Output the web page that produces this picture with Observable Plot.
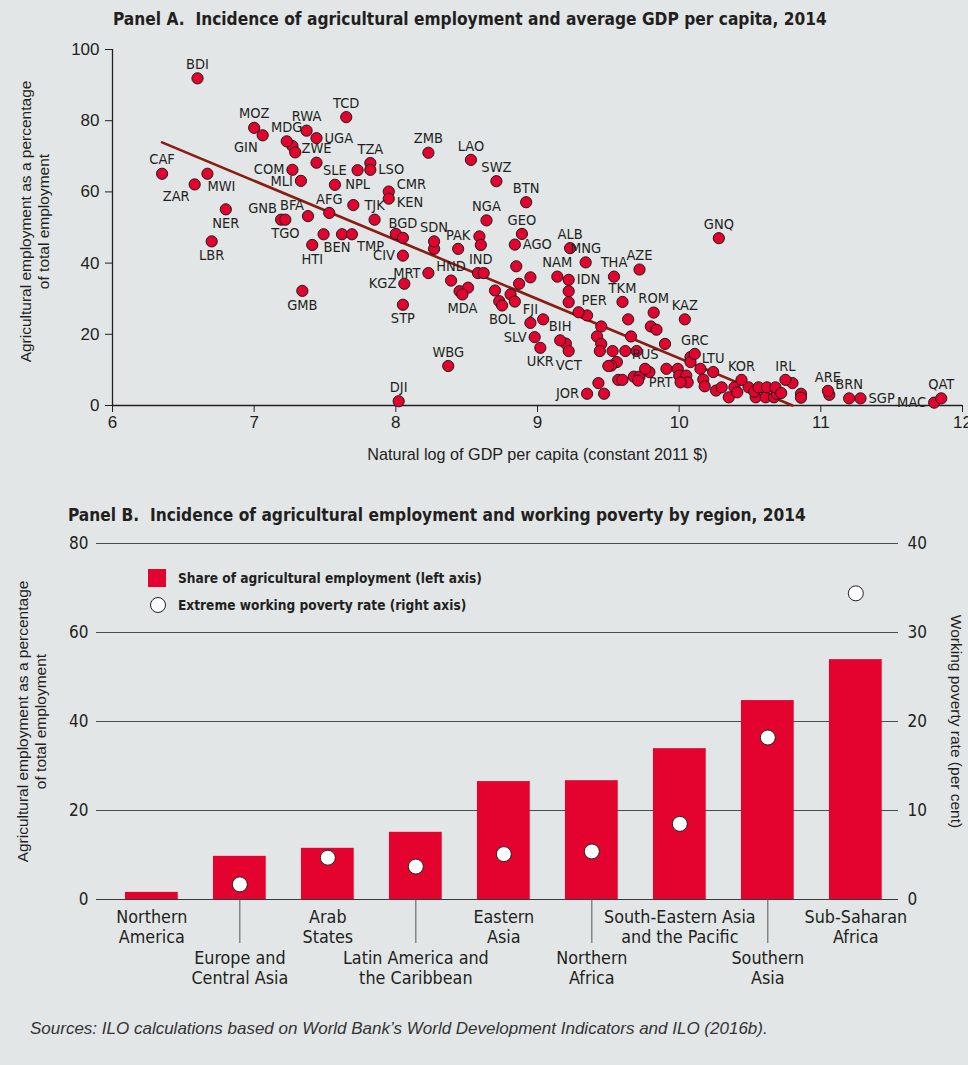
<!DOCTYPE html>
<html><head><meta charset="utf-8">
<script src="https://cdn.jsdelivr.net/npm/d3@7"></script>
<script src="https://cdn.jsdelivr.net/npm/@observablehq/plot@0.6"></script>
<style>
html,body{margin:0;padding:0;background:#e2e6e7;}
#root{position:relative;width:968px;height:1065px;background:#e2e6e7;color:#231f20;overflow:hidden;}
.narrow{font-family:'Liberation Sans Narrow','Arial Narrow','DejaVu Sans Condensed',sans-serif;}
.title{position:absolute;font-weight:bold;font-size:17.2px;line-height:1;white-space:pre;}
.abs{position:absolute;}
.leg{position:absolute;font-weight:bold;font-size:13.6px;line-height:1;white-space:pre;}
.src{position:absolute;left:30px;top:1020px;font-family:'Liberation Sans',Arial,sans-serif;font-style:italic;font-size:17px;line-height:1;color:#333;}
</style></head>
<body><div id="root">
<div class="title narrow" style="left:113px;top:11px">Panel A.  Incidence of agricultural employment and average GDP per capita, 2014</div>
<div id="chartA" class="abs" style="left:0;top:30px"></div>
<div class="title narrow" style="left:68px;top:507px">Panel B.  Incidence of agricultural employment and working poverty by region, 2014</div>
<div id="chartB" class="abs" style="left:0;top:525px"></div>
<div class="abs" style="left:148px;top:569px;width:18px;height:18px;background:#e4032e"></div>
<div class="leg narrow" style="left:178px;top:572px">Share of agricultural employment (left axis)</div>
<div class="abs" style="left:150px;top:597px;width:14px;height:14px;border:1px solid #231f20;border-radius:50%;background:#fff"></div>
<div class="leg narrow" style="left:178px;top:599px">Extreme working poverty rate (right axis)</div>
<div class="src">Sources: ILO calculations based on World Bank’s World Development Indicators and ILO (2016b).</div>
</div>
<script>
// ---------- Panel A data ----------
const xTicksA = [6, 7, 8, 9, 10, 11, 12];
const yTicksA = [0, 20, 40, 60, 80, 100];
const xLabelA = "Natural log of GDP per capita (constant 2011 $)";
const yLabelA = "Agricultural employment as a percentage\nof total employment";

// [country code, ln GDP per capita, agricultural employment %]
const labelledCountries = [
 ["BDI",6.60,91.9],["CAF",6.35,65.1],["ZAR",6.58,62.1],["MWI",6.67,65.1],["NER",6.80,55.1],["LBR",6.70,46.1],
 ["MOZ",7.00,78.0],["GIN",7.06,75.9],["MDG",7.23,74.2],["ZWE",7.44,68.2],["RWA",7.37,77.2],["UGA",7.44,75.1],
 ["TCD",7.65,81.0],["TZA",7.82,68.1],["LSO",7.82,66.2],["SLE",7.57,62.0],["NPL",7.73,66.1],["COM",7.27,66.2],
 ["MLI",7.33,63.1],["AFG",7.53,54.1],["TJK",7.85,52.2],["GNB",7.19,52.2],["BFA",7.38,53.2],["TGO",7.22,52.2],
 ["CMR",7.95,60.1],["KEN",7.95,58.1],["HTI",7.41,45.1],["BEN",7.49,48.1],["TMP",7.69,48.1],["GMB",7.34,32.2],
 ["DJI",8.02,1.2],["STP",8.05,28.3],["CIV",8.05,42.1],["KGZ",8.06,34.2],["ZMB",8.23,71.0],["LAO",8.53,69.0],
 ["SWZ",8.71,63.0],["BTN",8.92,57.1],["NGA",8.64,52.0],["GEO",8.89,48.2],["AGO",8.84,45.2],["IND",8.60,45.1],
 ["BGD",8.05,47.1],["SDN",8.27,46.1],["PAK",8.44,44.0],["MRT",8.23,37.2],["HND",8.39,35.1],["MDA",8.47,31.2],
 ["BOL",8.75,28.1],["NAM",9.14,36.2],["IDN",9.22,35.3],["ALB",9.23,44.2],["MNG",9.34,40.2],["THA",9.54,36.2],
 ["AZE",9.72,38.2],["TKM",9.60,29.1],["PER",9.29,26.2],["ROM",9.82,26.1],["WBG",8.37,11.1],["FJI",8.95,23.2],
 ["SLV",8.98,19.2],["UKR",9.02,16.2],["BIH",9.16,18.3],["VCT",9.22,15.3],["JOR",9.35,3.3],["GNQ",10.28,47.0],
 ["KAZ",10.04,24.2],["GRC",10.11,14.5],["RUS",9.76,10.3],["PRT",10.01,6.5],["LTU",10.24,9.4],["KOR",10.44,7.2],
 ["IRL",10.75,7.2],["ARE",11.05,4.1],["BRN",11.20,2.0],["SGP",11.28,2.0],["MAC",11.80,0.8],["QAT",11.85,2.0]
];
// unlabelled countries: [ln GDP per capita, agricultural employment %]
const otherCountries = [
 [7.27,72.9],[7.29,71.1],[7.70,56.3],[7.62,48.1],[8.00,48.2],[8.27,44.0],[8.59,47.5],[8.58,37.2],[8.62,37.2],
 [8.45,32.1],[8.51,33.1],[8.70,32.3],[8.73,29.3],[8.81,31.2],[8.84,29.2],[8.87,34.2],[8.85,39.1],[8.95,36.0],
 [9.22,32.1],[9.22,29.0],[9.35,25.3],[9.04,24.2],[9.20,17.4],[9.43,6.3],[9.47,3.3],[9.45,22.2],[9.42,19.4],
 [9.45,17.3],[9.44,15.3],[9.53,15.3],[9.62,15.3],[9.70,15.3],[9.56,12.2],[9.52,11.2],[9.50,11.1],[9.64,24.2],
 [9.66,19.4],[9.80,22.2],[9.84,21.3],[9.90,17.3],[9.79,9.4],[9.91,10.3],[9.57,7.2],[9.60,7.2],[9.68,8.1],
 [9.72,8.1],[9.71,7.0],[9.99,10.3],[10.00,8.4],[10.05,8.4],[10.06,6.5],[10.08,13.6],[10.08,12.2],[10.15,10.3],
 [10.17,7.3],[10.18,5.4],[10.26,4.2],[10.30,5.1],[10.35,2.3],[10.39,5.1],[10.41,3.7],[10.49,5.1],[10.54,2.3],
 [10.53,3.9],[10.56,5.1],[10.61,2.3],[10.62,5.1],[10.67,2.3],[10.69,3.3],[10.68,5.1],[10.72,3.5],[10.80,6.3],
 [10.86,3.3],[10.86,2.2],[11.06,3.0]
];
// fitted trend line end points
const trendX = [6.35, 10.80];
const trendY = [73.9, 0];

// label placement relative to its dot
const labelSide = {
 BDI:"top",CAF:"top",ZAR:"bl",MWI:"br",NER:"bottom",LBR:"bottom",MOZ:"top",GIN:"bl",MDG:"top",ZWE:"top",
 RWA:"top",UGA:"right",TCD:"top",TZA:"top",LSO:"right",SLE:"top",NPL:"bottom",COM:"left",MLI:"left",AFG:"top",
 TJK:"top",GNB:"tl",BFA:"tl",TGO:"bottom",CMR:"rt",KEN:"rb",HTI:"bottom",BEN:"br",TMP:"br2",GMB:"bottom",
 DJI:"top",STP:"bottom",CIV:"left",KGZ:"left",ZMB:"top",LAO:"top",SWZ:"top",BTN:"top",NGA:"top",GEO:"top",
 AGO:"right",IND:"bottom",BGD:"top",SDN:"top",PAK:"top",MRT:"left",HND:"top",MDA:"bottom",BOL:"bottom",NAM:"top",
 IDN:"right",ALB:"top",MNG:"top",THA:"top",AZE:"top",TKM:"top",PER:"tr",ROM:"top",WBG:"top",FJI:"top",
 SLV:"left",UKR:"bottom",BIH:"top",VCT:"bottom",JOR:"left",GNQ:"top",KAZ:"top",GRC:"top",RUS:"top",PRT:"left",
 LTU:"top",KOR:"top",IRL:"top",ARE:"top",BRN:"top",SGP:"right",MAC:"left",QAT:"top"
};

// ---------- Panel B data ----------
const regions = ["Northern America","Europe and Central Asia","Arab States","Latin America and the Caribbean",
 "Eastern Asia","Northern Africa","South-Eastern Asia and the Pacific","Southern Asia","Sub-Saharan Africa"];
const regionLabels = ["Northern\nAmerica","Europe and\nCentral Asia","Arab\nStates","Latin America and\nthe Caribbean",
 "Eastern\nAsia","Northern\nAfrica","South-Eastern Asia\nand the Pacific","Southern\nAsia","Sub-Saharan\nAfrica"];
const agriShareB = [1.6, 9.7, 11.5, 15.1, 26.5, 26.7, 33.9, 44.7, 53.9];
const povertyRate = [null, 1.7, 4.7, 3.7, 5.1, 5.4, 8.5, 18.2, 34.4];
const yTicksLeftB = [0, 20, 40, 60, 80];
const yTicksRightB = [0, 10, 20, 30, 40];
const yLabelB = "Agricultural employment as a percentage\nof total employment";
const yLabelBRight = "Working poverty rate (per cent)";

// ---------- styles ----------
const RED = "#e4032e";
const INK = "#231f20";
const REG = "'Liberation Sans', Arial, sans-serif";
const NAR = "'Liberation Sans Narrow','Arial Narrow','DejaVu Sans Condensed',sans-serif";
const sideOffsets = {
 top:{dx:0,dy:-14,textAnchor:"middle"},
 bottom:{dx:0,dy:14,textAnchor:"middle"},
 left:{dx:-8,dy:0,textAnchor:"end"},
 right:{dx:8,dy:0,textAnchor:"start"},
 rt:{dx:8,dy:-7,textAnchor:"start"},
 rb:{dx:8,dy:4,textAnchor:"start"},
 tl:{dx:-4,dy:-11,textAnchor:"end"},
 tr:{dx:3,dy:-12,textAnchor:"start"},
 bl:{dx:-5,dy:12,textAnchor:"end"},
 br:{dx:0,dy:13,textAnchor:"start"},
 br2:{dx:5,dy:12,textAnchor:"start"}
};

// ---------- Panel A ----------
const labelled = labelledCountries.map(([code, x, y]) => ({code, x, y, side: labelSide[code]}));
const others = otherCountries.map(([x, y]) => ({x, y}));
const allPts = others.concat(labelled);
const trend = trendX.map((x, i) => ({x, y: trendY[i]}));

const labelMarks = Object.entries(sideOffsets).map(([side, o]) =>
  Plot.text(labelled.filter(d => d.side === side), {
    x: "x", y: "y", text: "code", dx: o.dx, dy: o.dy, textAnchor: o.textAnchor,
    fontFamily: NAR, fontSize: 14.5, fill: INK, lineAnchor: "middle"
  }));

const chartA = Plot.plot({
  width: 968, height: 440,
  marginTop: 19, marginRight: 6, marginBottom: 65, marginLeft: 112,
  style: {background: "transparent", color: INK, fontFamily: REG, fontSize: "16px", overflow: "visible"},
  x: {domain: [6, 12]},
  y: {domain: [0, 100]},
  marks: [
    Plot.axisX({ticks: xTicksA, tickFormat: d => String(d), tickSize: 7, tickPadding: 3, label: null, fontSize: 17}),
    Plot.axisY({ticks: yTicksA, tickFormat: d => String(d), tickSize: 7, tickPadding: 6, label: null, fontSize: 17}),
    Plot.ruleX([6], {stroke: INK, strokeWidth: 1.3}),
    Plot.ruleY([0], {stroke: INK, strokeWidth: 1.3}),
    Plot.text([yLabelA], {text: d => d, frameAnchor: "left", textAnchor: "middle", dx: -78, dy: -6, rotate: -90,
      lineHeight: 1.15, fontSize: 15.5, fill: INK}),
    Plot.text([xLabelA], {text: d => d, frameAnchor: "bottom", textAnchor: "middle", dy: 54, fontSize: 16.2, fill: INK}),
    Plot.line(trend, {x: "x", y: "y", stroke: "#8a1c12", strokeWidth: 2.6}),
    Plot.dot(allPts, {x: "x", y: "y", r: 5.6, fill: RED, stroke: "#1b1b1b", strokeWidth: 1}),
    ...labelMarks
  ]
});
document.getElementById("chartA").append(chartA);

// ---------- Panel B ----------
const rowsB = regions.map((region, i) => ({region, label: regionLabels[i], agri: agriShareB[i], poverty: povertyRate[i], i}));
const upperRow = rowsB.filter(d => d.i % 2 === 0);
const lowerRow = rowsB.filter(d => d.i % 2 === 1);

const chartB = Plot.plot({
  width: 968, height: 470,
  marginTop: 18, marginRight: 70, marginBottom: 96, marginLeft: 96,
  style: {background: "transparent", color: INK, fontFamily: REG, fontSize: "16px", overflow: "visible"},
  x: {domain: regions, paddingInner: 0.4, paddingOuter: 0.257, align: 0.64, round: false},
  y: {domain: [0, 80]},
  marks: [
    Plot.ruleY(yTicksLeftB.filter(v => v > 0), {stroke: "#3a3a3a", strokeWidth: 0.9}),
    Plot.barY(rowsB, {x: "region", y: "agri", fill: RED}),
    Plot.ruleY([0], {stroke: "#3a3a3a", strokeWidth: 1.2}),
    Plot.axisX(lowerRow.map(d => d.region), {tickSize: 44, tickFormat: () => "", label: null, stroke: "#555"}),
    Plot.axisY({ticks: yTicksLeftB, tickSize: 0, tickPadding: 8, label: null, fontFamily: NAR, fontSize: 17}),
    Plot.axisY({anchor: "right", ticks: yTicksRightB.map(v => v * 2), tickFormat: v => String(v / 2),
      tickSize: 0, tickPadding: 9, label: null, fontFamily: NAR, fontSize: 17}),
    Plot.dot(rowsB.filter(d => d.poverty != null), {x: "region", y: d => d.poverty * 2, r: 7.5,
      fill: "#fff", stroke: INK, strokeWidth: 1}),
    Plot.text(upperRow, {x: "region", text: "label", frameAnchor: "bottom", dy: 9, lineAnchor: "top",
      fontFamily: NAR, fontSize: 17.8, lineHeight: 1.13, fill: INK}),
    Plot.text(lowerRow, {x: "region", text: "label", frameAnchor: "bottom", dy: 50, lineAnchor: "top",
      fontFamily: NAR, fontSize: 17.8, lineHeight: 1.13, fill: INK}),
    Plot.text([yLabelB], {text: d => d, frameAnchor: "left", textAnchor: "middle", dx: -65, rotate: -90,
      lineHeight: 1.15, fontSize: 15.5, fill: INK}),
    Plot.text([yLabelBRight], {text: d => d, frameAnchor: "right", textAnchor: "middle", dx: 57, rotate: 90,
      fontSize: 15.5, fill: INK})
  ]
});
document.getElementById("chartB").append(chartB);
</script>
</body></html>
